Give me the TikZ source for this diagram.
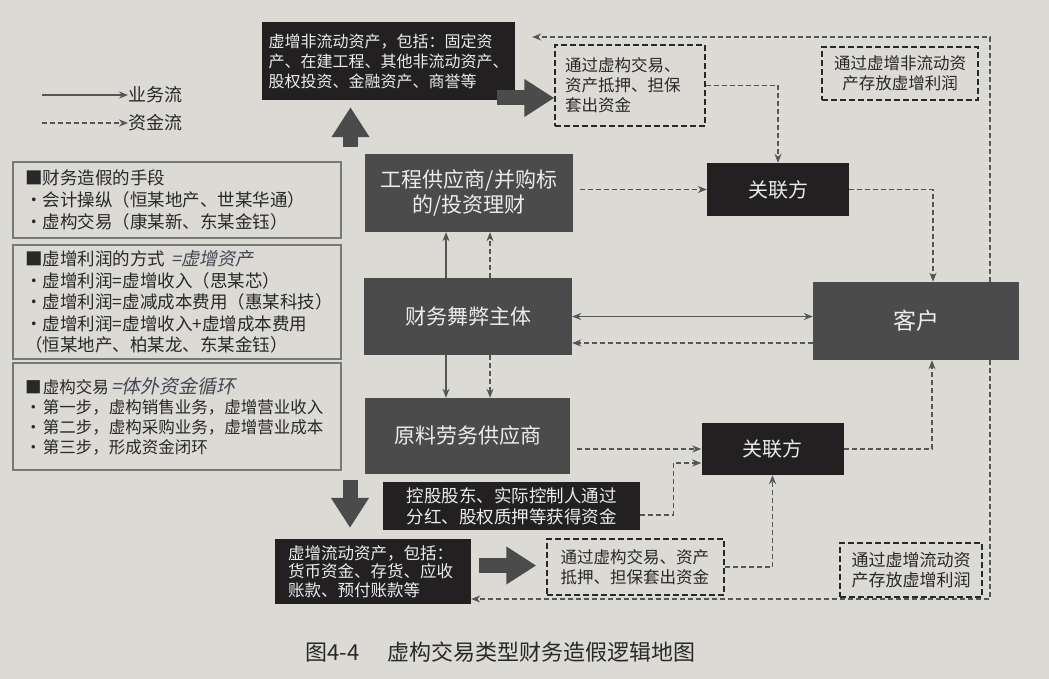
\documentclass[tikz,border=0pt]{standalone}
\usepackage{fontspec}
\setmainfont{Noto Sans CJK SC}
\newfontfamily\handfont[FakeSlant=0.2]{Noto Sans CJK SC}
\usetikzlibrary{arrows.meta}

\definecolor{paper}{RGB}{220,218,212}
\definecolor{boxgray}{RGB}{75,75,75}
\definecolor{boxblack}{RGB}{34,32,32}
\definecolor{boxtext}{RGB}{236,236,236}
\definecolor{linegray}{RGB}{85,85,85}
\definecolor{inkgray}{RGB}{40,40,40}
\definecolor{notegray}{RGB}{120,120,120}
\definecolor{pen}{RGB}{70,70,85}

\newcommand{\fsz}[2]{\fontsize{#1}{#2}\selectfont}
\newcommand{\sqitem}{\makebox[18pt][l]{■}}
\newcommand{\dotitem}{\makebox[18pt][l]{•}}

\begin{document}
\begin{tikzpicture}[
  x=1pt, y=-1pt,
  >={Stealth[length=9pt, width=7pt]},
  every node/.style={align=center, inner sep=0pt},
  graybox/.style={fill=boxgray, text=boxtext, minimum width=208pt, minimum height=78pt, font=\fsz{21}{25}},
  darkbox/.style={fill=boxblack, text=boxtext, font=\fsz{16.5}{20}},
  relbox/.style={darkbox, minimum width=142pt, minimum height=53pt, font=\fsz{20}{24}},
  fundbox/.style={draw=inkgray, dash pattern=on 6pt off 3pt, line width=1.5pt, text=inkgray, font=\fsz{16.5}{20}},
  notebox/.style={draw=notegray, line width=1.2pt, text=inkgray, align=left, text width=304pt, minimum width=328pt, font=\fsz{17.5}{21.5}},
  biz/.style={->, line width=1.4pt, draw=linegray},
  fund/.style={->, line width=1.4pt, draw=linegray, dash pattern=on 5pt off 3pt},
  bigarrow/.style={draw=boxgray, line width=15pt, -{Triangle[length=30pt, width=36pt]}}
]

\fill[paper] (0,0) rectangle (1049,679);
\useasboundingbox (0,0) rectangle (1049,679);

% LEGEND
\coordinate (lgbizstart) at (42,95);
\coordinate (lgfundstart) at (42,123);
\node[anchor=west, text=inkgray, font=\fsz{18}{20}] (lgbiz) at (128,95) {业务流};
\node[anchor=west, text=inkgray, font=\fsz{18}{20}] (lgfund) at (128,123) {资金流};
\draw[biz] (lgbizstart) -- (lgbiz.west);
\draw[fund] (lgfundstart) -- (lgfund.west);

% NOTES ON THE LEFT
\node[notebox, minimum height=76pt, font=\fsz{17.5}{22}] (means) at (177,200) {\sqitem 财务造假的手段\\
  \dotitem 会计操纵（恒某地产、世某华通）\\
  \dotitem 虚构交易（康某新、东某金钰）};
\node[notebox, minimum height=114pt] (profit) at (177,302) {\sqitem 虚增利润的方式\hspace{6pt}{\handfont\color{pen}\fsz{18}{21}=虚增资产}\\
  \dotitem 虚增利润=虚增收入（思某芯）\\
  \dotitem 虚增利润=虚减成本费用（惠某科技）\\
  \dotitem 虚增利润=虚增收入+虚增成本费用\\
  （恒某地产、柏某龙、东某金钰）};
\node[notebox, minimum height=107pt, font=\fsz{16.5}{20}] (fake) at (177,416.5) {\sqitem 虚构交易\hspace{2pt}{\handfont\color{pen}\fsz{19}{20}=体外资金循环}\\
  \dotitem 第一步，虚构销售业务，虚增营业收入\\
  \dotitem 第二步，虚构采购业务，虚增营业成本\\
  \dotitem 第三步，形成资金闭环};

% ENTITIES
\node[darkbox, text width=240pt, align=left, minimum width=253pt, minimum height=78pt, font=\fsz{16}{20}] (topbox) at (388.5,61) {虚增非流动资产，包括：固定资\\产、在建工程、其他非流动资产、\\股权投资、金融资产、商誉等};
\node[graybox] (eng) at (469,193) {工程供应商/并购标\\的/投资理财};
\node[relbox] (rel1) at (778,189.5) {关联方};
\node[graybox, minimum height=77pt] (firm) at (468,316.5) {财务舞弊主体};
\node[graybox, minimum width=206pt, font=\fsz{23}{26}] (cust) at (916,321) {客户};
\node[graybox, minimum width=205pt, minimum height=76pt] (supp) at (467.5,436) {原料劳务供应商};
\node[relbox, minimum height=52pt] (rel2) at (772.5,449) {关联方};
\node[darkbox, minimum width=257pt, minimum height=48pt, font=\fsz{17.5}{21}] (holder) at (511.5,506) {控股股东、实际控制人通过\\分红、股权质押等获得资金};
\node[darkbox, text width=170pt, align=left, minimum width=196pt, minimum height=65pt, font=\fsz{16.5}{18.5}] (curbox) at (373,571.5) {虚增流动资产，包括：\\货币资金、存货、应收\\账款、预付账款等};

% FUND BOXES
\node[fundbox, text width=130pt, align=left, minimum width=150pt, minimum height=81pt] (fund1) at (630,85.5) {通过虚构交易、\\资产抵押、担保\\套出资金};
\node[fundbox, minimum width=156pt, minimum height=53pt] (fund2) at (900,73.5) {通过虚增非流动资\\产存放虚增利润};
\node[fundbox, text width=150pt, align=left, minimum width=177pt, minimum height=56pt] (fund3) at (635.5,567) {通过虚构交易、资产\\抵押、担保套出资金};
\node[fundbox, minimum width=142pt, minimum height=54pt, font=\fsz{17}{20}] (fund4) at (911,570) {通过虚增流动资\\产存放虚增利润};

% BIG ARROWS
\draw[bigarrow] ([xshift=-38pt, yshift=-47pt]topbox.south) -- ([xshift=-38pt, yshift=-7pt]topbox.south);
\draw[bigarrow] ([xshift=-18pt, yshift=-37pt]topbox.east) -- ([yshift=-37pt]topbox.east -| fund1.west);
\draw[bigarrow] ([xshift=-23pt, yshift=59pt]curbox.north) -- ([xshift=-23pt, yshift=11pt]curbox.north);
\draw[bigarrow, shorten >=10pt] ([xshift=8pt, yshift=6pt]curbox.east) -- ([yshift=6pt]curbox.east -| fund3.west);

% BUSINESS FLOW
\draw[biz] ([xshift=-22pt]firm.north) -- ([xshift=-22pt]firm.north |- eng.south);
\draw[biz] ([xshift=-22pt]firm.south) -- ([xshift=-22pt]firm.south |- supp.north);
\draw[biz, <->] (firm.east) -- (firm.east -| cust.west);

% FUND FLOW
\draw[fund] ([xshift=22pt]firm.north) -- ([xshift=22pt]firm.north |- eng.south);
\draw[fund] ([xshift=22pt]firm.south) -- ([xshift=22pt]firm.south |- supp.north);
\draw[fund] ([yshift=-22pt]cust.west) -- ([yshift=-22pt]cust.west -| firm.east);
\draw[fund, shorten <=7pt] (eng.east |- rel1.west) -- (rel1.west);
\draw[fund] (fund1.east) -| (rel1.north);
\draw[fund] (rel1.east) -| ([xshift=17pt]cust.north);
\draw[fund, shorten <=7pt] (supp.east |- rel2.west) -- (rel2.west);
\draw[fund] ([yshift=-9pt]holder.east) -- ++(33,0) |- ([yshift=-14pt]rel2.west);
\draw[fund] (fund3.east) -| (rel2.south);
\draw[fund] (rel2.east) -| ([xshift=16pt]cust.south);

% LOOP BACK
\draw[fund] ([xshift=74pt]cust.north) |- ([xshift=17pt, yshift=24pt]topbox.east);
\draw[fund] ([xshift=74pt]cust.south) |- ([yshift=-27.5pt]curbox.east);

% CAPTION
\node[anchor=west, text=inkgray, font=\fsz{22}{24}] (caption) at (305,652) {图4-4\hspace{28pt}虚构交易类型财务造假逻辑地图};

\end{tikzpicture}
\end{document}
